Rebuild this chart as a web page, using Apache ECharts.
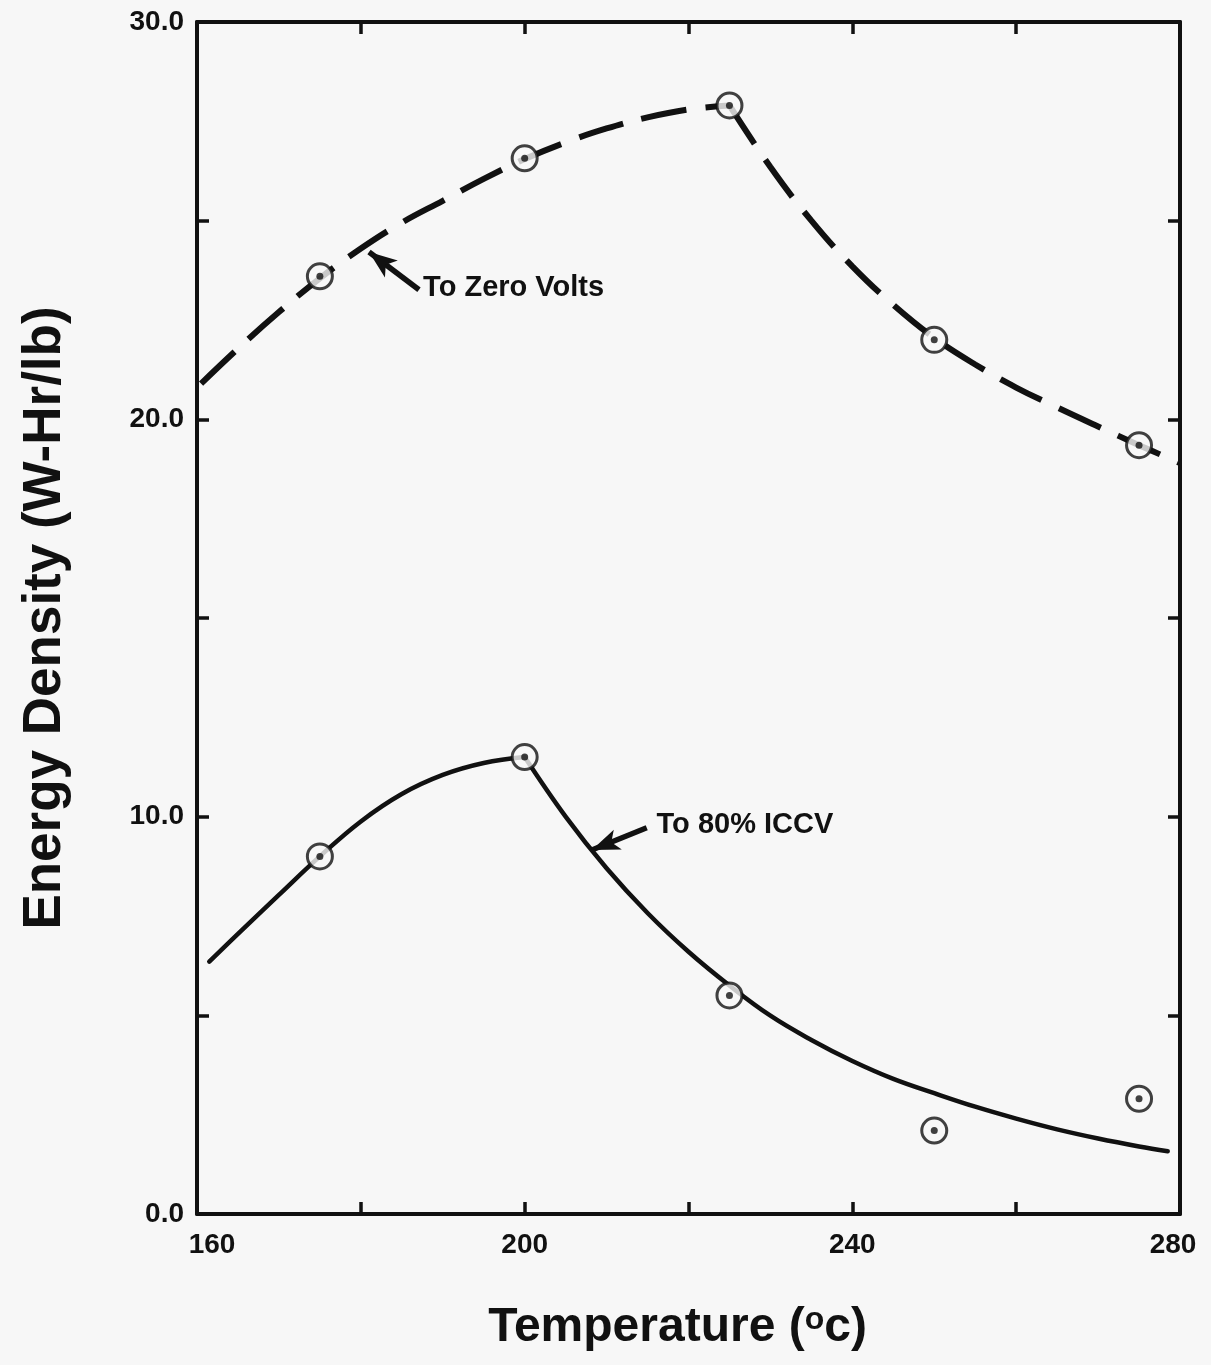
<!DOCTYPE html>
<html>
<head>
<meta charset="utf-8">
<script src="https://cdn.jsdelivr.net/npm/echarts@6/dist/echarts.min.js"></script>
<style>
html,body{margin:0;padding:0;background:#f7f7f7;}
#chart{width:1211px;height:1365px;}
</style>
</head>
<body>
<div id="chart"></div>
<script>
// ---- Data ----
// Measured points (circled-dot markers)
var zeroVoltsTemp   = [175, 200, 225, 250, 275];
var zeroVoltsEnergy = [23.6, 26.57, 27.9, 22.0, 19.35];
var iccvTemp        = [175, 200, 225, 250, 275];
var iccvEnergy      = [9.0, 11.5, 5.5, 2.1, 2.9];

// Hand-drawn fitted curves, split at the sharp peak
var zvRiseTemp   = [160.5, 165, 170, 175, 180, 185, 190, 195, 200, 205, 210, 215, 220, 225];
var zvRiseEnergy = [20.9, 21.78, 22.7, 23.55, 24.3, 24.95, 25.5, 26.05, 26.55, 26.97, 27.32, 27.6, 27.8, 27.9];
var zvFallTemp   = [225, 230, 235, 240, 245, 250, 255, 260, 265, 270, 275, 280];
var zvFallEnergy = [27.9, 26.35, 25.0, 23.85, 22.88, 22.05, 21.38, 20.8, 20.3, 19.82, 19.35, 18.9];

var iccvRiseTemp   = [161.5, 165, 170, 175, 180, 185, 190, 195, 200];
var iccvRiseEnergy = [6.35, 7.05, 8.03, 9.0, 9.88, 10.57, 11.05, 11.35, 11.5];
var iccvFallTemp   = [200, 205, 210, 215, 220, 225, 230, 235, 240, 245, 250, 255, 260, 265, 270, 275, 278.5];
var iccvFallEnergy = [11.5, 10.0, 8.7, 7.575, 6.6, 5.75, 4.99, 4.38, 3.85, 3.4, 3.04, 2.7, 2.4, 2.13, 1.9, 1.7, 1.58];

// Axis tick labels
var xTickLabels = ['160', '200', '240', '280'];
var yTickLabels = ['0.0', '10.0', '20.0', '30.0'];

// Annotations (text anchor and arrow tail -> tip, in data units)
var noteTexts  = ['To Zero Volts', 'To 80% ICCV'];
var noteAnchor = [[187.6, 23.3], [216.1, 9.8]];
var arrowTail  = [[187.1, 23.26], [214.9, 9.72]];
var arrowTip   = [[181.0, 24.21], [208.2, 9.16]];

function pairs(xs, ys) { return xs.map(function (x, i) { return [x, ys[i]]; }); }

var INK = '#111111';
var BG = '#f7f7f7';
var FONT = '"Liberation Sans", Arial, Helvetica, sans-serif';

var axisCommonX = {
  type: 'value', min: 160, max: 280, interval: 20,
  axisLine: { show: true, onZero: false, lineStyle: { color: INK, width: 4 } },
  axisTick: { show: true, inside: true, length: 12, lineStyle: { color: INK, width: 3.5 } },
  splitLine: { show: false }
};
var axisCommonY = {
  type: 'value', min: 0, max: 30, interval: 5,
  axisLine: { show: true, onZero: false, lineStyle: { color: INK, width: 4 } },
  axisTick: { show: true, inside: true, length: 12, lineStyle: { color: INK, width: 3.5 } },
  splitLine: { show: false }
};

var tickFont = { color: INK, fontSize: 28, fontWeight: 'bold', fontFamily: FONT };

var chart = echarts.init(document.getElementById('chart'), null, { renderer: 'canvas' });

var option = {
  backgroundColor: BG,
  animation: false,
  grid: { left: 197, right: 31, top: 22, bottom: 151, containLabel: false },
  xAxis: [
    Object.assign({}, axisCommonX, {
      position: 'bottom',
      axisLabel: Object.assign({
        show: true, margin: 17,
        formatter: function (v) {
          var s = String(v);
          var i = xTickLabels.indexOf(s);
          if (i < 0) return '';
          if (i === 0) return '{first|' + s + '}';
          if (i === xTickLabels.length - 1) return '{last|' + s + '}';
          return s;
        },
        rich: {
          first: Object.assign({ padding: [0, 0, 0, 30] }, tickFont),
          last: Object.assign({ padding: [0, 14, 0, 0] }, tickFont)
        }
      }, tickFont),
      name: 'Temperature ({sup|o}c)',
      nameLocation: 'middle',
      nameGap: 90,
      nameTextStyle: {
        color: INK, fontSize: 48, fontWeight: 'bold', fontFamily: FONT,
        padding: [0, 22, 0, 0],
        rich: { sup: { fontSize: 32, fontWeight: 'bold', fontFamily: FONT, color: INK, verticalAlign: 'top', lineHeight: 48 } }
      }
    }),
    Object.assign({}, axisCommonX, { position: 'top', axisLabel: { show: false } })
  ],
  yAxis: [
    Object.assign({}, axisCommonY, {
      position: 'left',
      axisLabel: Object.assign({
        show: true, margin: 13,
        formatter: function (v) { return v % 10 === 0 ? yTickLabels[v / 10] : ''; }
      }, tickFont),
      name: 'Energy Density (W-Hr/lb)',
      nameLocation: 'middle',
      nameGap: 125,
      nameTextStyle: { color: INK, fontSize: 53, fontWeight: 'bold', fontFamily: FONT }
    }),
    Object.assign({}, axisCommonY, { position: 'right', axisLabel: { show: false } })
  ],
  series: [
    { type: 'line', name: 'zvRise', data: pairs(zvRiseTemp, zvRiseEnergy), smooth: 0.4, showSymbol: false, z: 2,
      lineStyle: { color: INK, width: 6, type: [46, 19], cap: 'butt' } },
    { type: 'line', name: 'zvFall', data: pairs(zvFallTemp, zvFallEnergy), smooth: 0.4, showSymbol: false, z: 2,
      lineStyle: { color: INK, width: 6, type: [46, 19], cap: 'butt' } },
    { type: 'line', name: 'iccvRise', data: pairs(iccvRiseTemp, iccvRiseEnergy), smooth: 0.4, showSymbol: false, z: 2,
      lineStyle: { color: INK, width: 4.5, type: 'solid', cap: 'round' } },
    { type: 'line', name: 'iccvFall', data: pairs(iccvFallTemp, iccvFallEnergy), smooth: 0.4, showSymbol: false, z: 2,
      lineStyle: { color: INK, width: 4.5, type: 'solid', cap: 'round' } },
    // circle rings
    { type: 'scatter', name: 'zvRing', data: pairs(zeroVoltsTemp, zeroVoltsEnergy), symbol: 'circle', symbolSize: 25, z: 5,
      itemStyle: { color: BG, borderColor: INK, borderWidth: 3 } },
    { type: 'scatter', name: 'iccvRing', data: pairs(iccvTemp, iccvEnergy), symbol: 'circle', symbolSize: 25, z: 5,
      itemStyle: { color: BG, borderColor: INK, borderWidth: 3 } },
    // center dots
    { type: 'scatter', name: 'zvDot', data: pairs(zeroVoltsTemp, zeroVoltsEnergy), symbol: 'circle', symbolSize: 7, z: 6,
      itemStyle: { color: INK } },
    { type: 'scatter', name: 'iccvDot', data: pairs(iccvTemp, iccvEnergy), symbol: 'circle', symbolSize: 7, z: 6,
      itemStyle: { color: INK } },
    // annotations with arrows
    { type: 'scatter', name: 'notes', z: 7, symbolSize: 0, itemStyle: { color: INK },
      data: noteTexts.map(function (t, i) { return { name: t, value: noteAnchor[i] }; }),
      label: { show: true, position: 'right', distance: 0, formatter: '{b}', color: INK, opacity: 1,
               fontSize: 29, fontWeight: 'bold', fontFamily: FONT },
      emphasis: { disabled: true },
      markLine: {
        silent: true, animation: false, symbol: ['none', 'arrow'], symbolSize: [16, 28],
        label: { show: false },
        lineStyle: { color: INK, width: 5.5, type: 'solid' },
        data: arrowTail.map(function (t, i) { return [{ coord: t }, { coord: arrowTip[i] }]; })
      }
    }
  ]
};
chart.setOption(option);
</script>
</body>
</html>
